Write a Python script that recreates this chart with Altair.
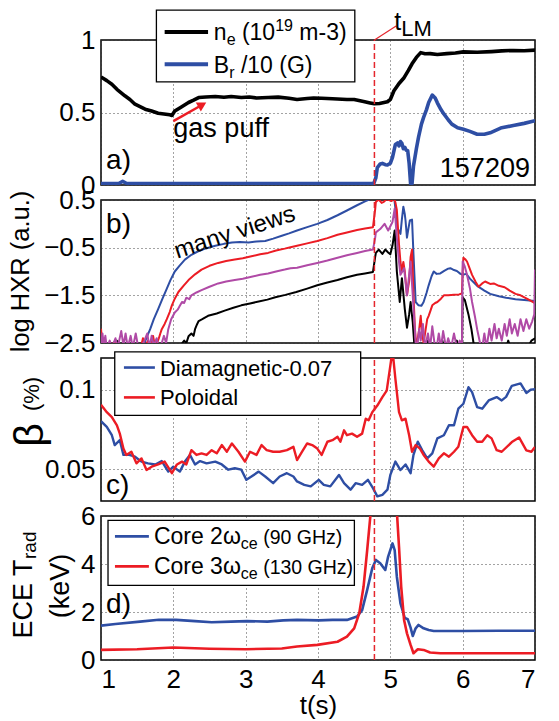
import altair as alt
import pandas as pd

FONT = "Liberation Sans"
BLUE = "#2e4ea4"
RED = "#ec1c24"
MAG = "#b04aa6"
BLACK = "#000000"
DRED = "#e4262d"
T_LM = 4.78

# ---------------- panel a : density and Br ----------------
T_NE = [1.0, 1.08, 1.15, 1.22, 1.33, 1.4, 1.47, 1.54, 1.61, 1.7, 1.79, 1.87, 1.95, 1.98, 2.02, 2.1, 2.21, 2.28,
        2.35, 2.45, 2.58, 2.7, 2.8, 2.94, 3.05, 3.15, 3.31, 3.45, 3.6, 3.71, 3.85, 3.94, 4.05, 4.2, 4.4, 4.5, 4.63,
        4.72, 4.78, 4.85, 4.96, 5.0, 5.05, 5.12, 5.19, 5.25, 5.3, 5.36, 5.42, 5.48, 5.55, 5.65, 5.78, 5.9, 6.01,
        6.2, 6.4, 6.54, 6.7, 6.85, 7.0]
NE = [0.745, 0.72, 0.695, 0.66, 0.615, 0.59, 0.557, 0.54, 0.523, 0.51, 0.495, 0.49, 0.484, 0.48, 0.51, 0.535,
      0.569, 0.585, 0.603, 0.607, 0.61, 0.605, 0.61, 0.603, 0.607, 0.6, 0.603, 0.606, 0.598, 0.59, 0.596, 0.6,
      0.598, 0.595, 0.59, 0.59, 0.576, 0.566, 0.56, 0.562, 0.574, 0.59, 0.65, 0.7, 0.74, 0.79, 0.836, 0.88, 0.913,
      0.905, 0.906, 0.9, 0.906, 0.91, 0.918, 0.915, 0.92, 0.925, 0.928, 0.926, 0.93]

T_BR = [1.0, 1.25, 1.3, 1.35, 1.6, 2.0, 3.0, 4.0, 4.77, 4.8, 4.82, 4.86, 4.89, 4.93, 4.96, 5.0, 5.03, 5.07, 5.1,
        5.12, 5.14, 5.16, 5.18, 5.2, 5.22, 5.24, 5.26, 5.28, 5.3, 5.32, 5.36, 5.39, 5.43, 5.46, 5.5, 5.53, 5.58,
        5.62, 5.65, 5.7, 5.74, 5.8, 5.85, 5.93, 6.01, 6.1, 6.2, 6.3, 6.38, 6.54, 6.7, 6.85, 7.0]
BR = [0.01, 0.012, 0.025, 0.012, 0.01, 0.01, 0.01, 0.01, 0.01, 0.05, 0.12, 0.145, 0.149, 0.14, 0.138, 0.15, 0.19,
      0.28, 0.29, 0.27, 0.3, 0.287, 0.25, 0.26, 0.24, 0.237, 0.15, 0.01, 0.01, 0.13, 0.25, 0.33, 0.42, 0.466,
      0.52, 0.569, 0.62, 0.6, 0.567, 0.52, 0.49, 0.45, 0.42, 0.395, 0.385, 0.37, 0.35, 0.35, 0.36, 0.395, 0.41,
      0.425, 0.443]

# ---------------- panel b : log HXR, several views ----------------
T_HB = [1.0, 1.55, 1.6, 1.64, 1.68, 1.73, 1.79, 1.85, 1.91, 1.96, 2.02, 2.09, 2.16, 2.25, 2.35, 2.46, 2.58, 2.7,
        2.81, 2.92, 3.04, 3.15, 3.27, 3.38, 3.5, 3.6, 3.71, 3.85, 3.99, 4.13, 4.27, 4.4, 4.54, 4.65, 4.77, 4.85,
        5.0, 5.05, 5.08, 5.09, 5.12, 5.14, 5.16, 5.18, 5.2, 5.21, 5.23, 5.25, 5.27, 5.3, 5.32, 5.35, 5.39, 5.43,
        5.46, 5.5, 5.53, 5.57, 5.6, 5.64, 5.69, 5.75, 5.8, 5.83, 5.88, 5.92, 5.97, 6.0, 6.05, 6.1, 6.2, 6.3, 6.38,
        6.5, 6.6, 6.73, 6.85, 7.0]
HB = [-2.7, -2.7, -2.5, -2.35, -2.21, -2.0, -1.79, -1.57, -1.36, -1.18, -1.0, -0.87, -0.75, -0.65, -0.57, -0.51,
      -0.46, -0.42, -0.39, -0.38, -0.39, -0.37, -0.36, -0.31, -0.25, -0.2, -0.14, -0.07, 0.0, 0.08, 0.18, 0.28,
      0.39, 0.47, 0.55, 0.6, 0.6, 0.58, 0.2, -0.07, -0.15, -0.21, 0.1, 0.36, 0.2, 0.07, -0.29, -0.1, 0.07, 0.09,
      -0.64, -1.64, -1.71, -1.72, -1.64, -1.45, -1.29, -1.1, -1.0, -1.05, -1.04, -0.98, -0.94, -0.93, -0.97,
      -0.99, -1.05, -1.07, -1.05, -1.15, -1.3, -1.4, -1.47, -1.52, -1.55, -1.58, -1.6, -1.62]

T_HR = [1.0, 1.02, 1.05, 1.07, 1.12, 1.2, 1.23, 1.4, 1.55, 1.58, 1.6, 1.65, 1.68, 1.72, 1.75, 1.8, 1.82, 1.84,
        1.88, 1.91, 1.95, 1.98, 2.02, 2.07, 2.14, 2.21, 2.3, 2.39, 2.5, 2.62, 2.73, 2.85, 2.96, 3.08, 3.2, 3.31,
        3.42, 3.54, 3.62, 3.71, 3.85, 3.99, 4.13, 4.27, 4.4, 4.54, 4.65, 4.76, 4.79, 4.8, 4.84, 4.88, 4.91, 4.95,
        4.98, 5.02, 5.05, 5.07, 5.09, 5.12, 5.14, 5.16, 5.18, 5.2, 5.23, 5.26, 5.28, 5.3, 5.32, 5.34, 5.36, 5.4,
        5.42, 5.44, 5.46, 5.49, 5.51, 5.53, 5.56, 5.58, 5.62, 5.65, 5.7, 5.74, 5.8, 5.88, 5.95, 5.99, 6.0, 6.01,
        6.04, 6.06, 6.1, 6.13, 6.18, 6.22, 6.27, 6.31, 6.38, 6.43, 6.5, 6.58, 6.65, 6.73, 6.8, 6.9, 6.98, 7.0]
HR = [-2.2, -2.6, -2.4, -2.6, -2.6, -2.45, -2.6, -2.6, -2.6, -2.4, -2.6, -2.45, -2.6, -2.35, -2.6, -2.4, -2.3,
      -2.21, -2.1, -2.0, -1.85, -1.71, -1.57, -1.43, -1.3, -1.18, -1.06, -0.96, -0.88, -0.82, -0.78, -0.75, -0.72,
      -0.68, -0.64, -0.61, -0.56, -0.52, -0.49, -0.46, -0.41, -0.36, -0.3, -0.23, -0.18, -0.13, -0.1, -0.07, 0.3,
      0.46, 0.51, 0.44, 0.46, 0.52, 0.5, 0.48, 0.54, 0.45, 0.29, -0.43, -0.8, -1.0, -0.8, -1.0, -1.5, -1.2, -0.7,
      -0.54, -1.5, -2.2, -2.6, -2.2, -1.93, -2.3, -2.5, -2.2, -2.0, -1.93, -1.8, -1.71, -1.66, -1.64, -1.57,
      -1.5, -1.5, -1.49, -1.48, -1.46, -1.0, -0.71, -0.75, -0.79, -0.95, -1.07, -1.22, -1.32, -1.25, -1.21,
      -1.26, -1.25, -1.3, -1.33, -1.4, -1.47, -1.5, -1.58, -1.65, -1.66]

T_HK = [1.0, 1.2, 1.22, 1.24, 2.0, 2.1, 2.15, 2.18, 2.21, 2.25, 2.28, 2.3, 2.33, 2.35, 2.4, 2.48, 2.6, 2.71, 2.83,
        2.94, 3.06, 3.18, 3.3, 3.41, 3.55, 3.7, 3.85, 3.99, 4.13, 4.27, 4.4, 4.54, 4.65, 4.76, 4.79, 4.8, 4.84,
        4.89, 4.93, 4.97, 5.0, 5.03, 5.06, 5.09, 5.13, 5.16, 5.2, 5.23, 5.26, 5.28, 5.31, 5.33, 5.36, 5.5, 5.52,
        5.54, 5.7, 5.72, 5.74, 5.9, 5.92, 5.94, 5.99, 6.0, 6.03, 6.08, 6.12, 6.15, 6.18, 6.6, 6.63, 6.66, 6.9,
        6.95, 7.0]
HK = [-2.6, -2.6, -2.45, -2.6, -2.6, -2.55, -2.45, -2.5, -2.36, -2.3, -2.35, -2.21, -2.1, -2.04, -2.0, -1.93,
      -1.88, -1.82, -1.76, -1.71, -1.67, -1.63, -1.59, -1.54, -1.49, -1.43, -1.36, -1.29, -1.23, -1.18, -1.12,
      -1.07, -1.04, -1.01, -0.7, -0.61, -0.54, -0.63, -0.54, -0.6, -0.64, -0.45, -0.14, -1.0, -1.64, -1.14,
      -1.79, -2.18, -1.9, -1.64, -2.07, -2.5, -2.6, -2.6, -2.45, -2.6, -2.6, -2.45, -2.6, -2.6, -2.45, -2.6,
      -2.6, -1.54, -1.6, -1.9, -2.2, -2.5, -2.6, -2.6, -2.45, -2.6, -2.6, -2.45, -2.4]

T_HM = [1.0, 1.02, 1.04, 1.06, 1.08, 1.12, 1.15, 1.2, 1.23, 1.28, 1.31, 1.34, 1.37, 1.41, 1.44, 1.48, 1.51, 1.55,
        1.6, 1.64, 1.67, 1.7, 1.73, 1.77, 1.8, 1.84, 1.87, 1.9, 1.93, 1.97, 2.02, 2.06, 2.09, 2.12, 2.15, 2.18,
        2.22, 2.25, 2.32, 2.39, 2.5, 2.62, 2.73, 2.85, 2.96, 3.08, 3.2, 3.31, 3.42, 3.54, 3.62, 3.71, 3.85, 3.99,
        4.13, 4.27, 4.4, 4.54, 4.65, 4.76, 4.79, 4.8, 4.86, 4.92, 4.97, 5.0, 5.03, 5.06, 5.09, 5.12, 5.14, 5.19,
        5.23, 5.28, 5.31, 5.35, 5.37, 5.4, 5.42, 5.45, 5.48, 5.52, 5.55, 5.58, 5.61, 5.64, 5.67, 5.7, 5.73, 5.77,
        5.8, 5.84, 5.88, 5.92, 5.96, 5.99, 6.0, 6.03, 6.06, 6.1, 6.13, 6.17, 6.2, 6.24, 6.27, 6.3, 6.33, 6.37,
        6.4, 6.44, 6.47, 6.5, 6.54, 6.58, 6.61, 6.65, 6.68, 6.72, 6.76, 6.8, 6.84, 6.88, 6.92, 6.96, 6.99, 7.0]
HM = [-2.6, -2.3, -2.55, -2.35, -2.6, -2.45, -2.6, -2.4, -2.6, -2.25, -2.55, -2.3, -2.6, -2.35, -2.6, -2.3,
      -2.55, -2.6, -2.45, -2.3, -2.6, -2.35, -2.55, -2.4, -2.6, -2.5, -2.35, -2.5, -2.21, -2.0, -1.86, -1.8,
      -1.72, -1.64, -1.66, -1.55, -1.58, -1.5, -1.44, -1.39, -1.32, -1.25, -1.21, -1.18, -1.15, -1.11, -1.07,
      -1.04, -1.0, -0.96, -0.93, -0.92, -0.87, -0.82, -0.77, -0.71, -0.66, -0.61, -0.57, -0.54, -0.3, -0.18,
      -0.11, 0.0, -0.14, -0.05, 0.04, 0.32, -0.29, -0.8, -1.07, -0.93, -1.5, -0.79, -1.5, -2.5, -2.6, -2.2,
      -2.45, -2.1, -2.6, -2.3, -2.6, -2.15, -2.5, -2.6, -2.3, -2.6, -2.25, -2.6, -2.4, -2.6, -2.3, -2.6, -2.45,
      -2.6, -0.79, -0.9, -1.07, -1.35, -1.64, -1.95, -2.21, -2.5, -2.6, -2.3, -2.6, -2.2, -2.45, -2.1, -2.4,
      -2.2, -2.45, -2.1, -2.35, -2.0, -2.3, -2.1, -2.35, -2.0, -2.25, -2.0, -2.2, -2.05, -1.9, -0.96]

# ---------------- panel c : beta ----------------
T_BD = [1.0, 1.08, 1.15, 1.19, 1.26, 1.31, 1.38, 1.47, 1.56, 1.65, 1.75, 1.84, 1.93, 2.0, 2.09, 2.16, 2.23, 2.3,
        2.37, 2.46, 2.58, 2.67, 2.76, 2.85, 2.94, 3.01, 3.08, 3.18, 3.27, 3.38, 3.47, 3.57, 3.66, 3.71, 3.81, 3.9,
        4.01, 4.08, 4.17, 4.29, 4.36, 4.45, 4.52, 4.61, 4.69, 4.76, 4.82, 4.89, 4.96, 5.0, 5.07, 5.14, 5.21, 5.28,
        5.32, 5.38, 5.44, 5.51, 5.58, 5.65, 5.74, 5.81, 5.88, 5.94, 6.01, 6.08, 6.13, 6.2, 6.27, 6.36, 6.47, 6.54,
        6.6, 6.68, 6.8, 6.88, 6.94, 7.0]
BD = [0.0802, 0.0767, 0.0714, 0.0652, 0.0683, 0.059, 0.0592, 0.0579, 0.0548, 0.0537, 0.053, 0.0551, 0.0485,
      0.0516, 0.0485, 0.0548, 0.059, 0.053, 0.0551, 0.0537, 0.0548, 0.053, 0.0497, 0.0506, 0.0497, 0.0433,
      0.0454, 0.0485, 0.0454, 0.0412, 0.0454, 0.0475, 0.0454, 0.0423, 0.0402, 0.0392, 0.0433, 0.0402, 0.0392,
      0.0464, 0.0412, 0.0371, 0.0412, 0.0402, 0.0433, 0.0381, 0.0329, 0.0339, 0.0371, 0.0464, 0.0548, 0.0495,
      0.053, 0.0475, 0.059, 0.0673, 0.062, 0.0568, 0.06, 0.0694, 0.0714, 0.0777, 0.0777, 0.0881, 0.0912, 0.1016,
      0.0985, 0.0891, 0.0881, 0.0933, 0.0954, 0.0933, 0.0955, 0.1025, 0.104, 0.098, 0.1, 0.1004]

T_BP = [1.0, 1.08, 1.15, 1.22, 1.26, 1.31, 1.35, 1.42, 1.49, 1.56, 1.63, 1.7, 1.79, 1.88, 1.98, 2.05, 2.12, 2.18,
        2.25, 2.32, 2.39, 2.46, 2.53, 2.6, 2.67, 2.74, 2.81, 2.9, 2.99, 3.06, 3.15, 3.22, 3.29, 3.38, 3.47, 3.57,
        3.66, 3.71, 3.78, 3.85, 3.92, 3.99, 4.05, 4.13, 4.2, 4.27, 4.31, 4.36, 4.4, 4.47, 4.54, 4.61, 4.66, 4.7,
        4.75, 4.82, 4.89, 4.95, 5.0, 5.03, 5.07, 5.12, 5.16, 5.21, 5.26, 5.3, 5.35, 5.41, 5.46, 5.53, 5.6, 5.67,
        5.74, 5.81, 5.88, 5.94, 6.01, 6.06, 6.13, 6.2, 6.27, 6.34, 6.4, 6.47, 6.54, 6.68, 6.78, 6.88, 6.95, 7.0]
BP = [0.0906, 0.0859, 0.0828, 0.0776, 0.0724, 0.063, 0.059, 0.061, 0.0537, 0.0568, 0.0495, 0.0516, 0.053,
      0.0548, 0.0475, 0.053, 0.0548, 0.053, 0.062, 0.059, 0.06, 0.059, 0.062, 0.06, 0.0652, 0.061, 0.0662, 0.061,
      0.0548, 0.061, 0.059, 0.0652, 0.062, 0.061, 0.061, 0.062, 0.0641, 0.0558, 0.061, 0.0662, 0.0652, 0.063,
      0.059, 0.0673, 0.0683, 0.0704, 0.0673, 0.0745, 0.0714, 0.0724, 0.0704, 0.0724, 0.0818, 0.0808, 0.0859,
      0.0901, 0.0954, 0.0995, 0.1151, 0.125, 0.1068, 0.0859, 0.0808, 0.0818, 0.0714, 0.061, 0.0652, 0.063,
      0.059, 0.0548, 0.0516, 0.0568, 0.06, 0.0579, 0.061, 0.0641, 0.0766, 0.0766, 0.0714, 0.0673, 0.0673,
      0.0714, 0.0694, 0.062, 0.061, 0.0671, 0.07, 0.0619, 0.061, 0.064]

# ---------------- panel d : ECE ----------------
T_E2 = [1.0, 1.2, 1.54, 1.8, 2.04, 2.3, 2.53, 2.8, 3.02, 3.3, 3.52, 3.71, 4.01, 4.2, 4.4, 4.54, 4.61, 4.68, 4.75,
        4.8, 4.86, 4.93, 4.97, 5.03, 5.06, 5.09, 5.14, 5.2, 5.24, 5.28, 5.31, 5.35, 5.39, 5.46, 5.53, 5.6, 6.0,
        6.5, 7.0]
E2 = [1.43, 1.5, 1.6, 1.68, 1.67, 1.62, 1.57, 1.6, 1.62, 1.6, 1.65, 1.67, 1.65, 1.67, 1.67, 1.81, 2.08, 2.92,
      3.82, 4.17, 4.03, 3.75, 4.31, 4.86, 4.58, 3.47, 2.36, 1.75, 1.7, 1.35, 1.0, 1.32, 1.46, 1.32, 1.25, 1.21,
      1.21, 1.22, 1.22]

T_E3 = [1.0, 1.5, 2.0, 2.5, 3.0, 3.5, 3.71, 3.99, 4.27, 4.4, 4.5, 4.57, 4.63, 4.68, 4.73, 4.78, 5.0, 5.09, 5.12,
        5.15, 5.19, 5.23, 5.28, 5.32, 5.38, 5.46, 5.55, 5.69, 6.0, 6.5, 7.0]
E3 = [0.42, 0.45, 0.52, 0.47, 0.45, 0.48, 0.56, 0.63, 0.76, 0.97, 1.32, 1.94, 3.06, 4.58, 6.2, 8.0, 8.0, 6.2,
      4.72, 3.06, 1.67, 1.11, 0.63, 0.28, 0.45, 0.42, 0.31, 0.28, 0.28, 0.28, 0.28]

X_TICKS = [1, 2, 3, 4, 5, 6, 7]

# Arial / Liberation Sans advance widths (1/1000 em)
WID = {' ': 278, '(': 333, ')': 333, '/': 278, '-': 333, '.': 278, '%': 889,
       'A': 667, 'B': 667, 'C': 722, 'D': 722, 'E': 667, 'G': 778, 'H': 722, 'L': 556, 'M': 833,
       'P': 667, 'R': 722, 'T': 611, 'V': 667, 'X': 667,
       'a': 556, 'c': 500, 'd': 556, 'e': 556, 'f': 278, 'g': 556, 'i': 222, 'k': 500, 'l': 222,
       'm': 833, 'n': 556, 'o': 556, 'p': 556, 'r': 333, 's': 500, 't': 278, 'u': 556, 'v': 500,
       'w': 722, 'y': 500, 'z': 500, 'ω': 780}


def twidth(s, size):
    return sum(WID.get(c, 556) for c in s) * size / 1000.0


def one(**kw):
    return pd.DataFrame({k: [v] for k, v in kw.items()})


def make_panel(ydom, yvals, yfmt, height, bottom, build):
    xs = alt.Scale(domain=[1, 7], nice=False, zero=False)
    ys = alt.Scale(domain=ydom, nice=False, zero=False)
    if bottom:
        xaxis = alt.Axis(values=X_TICKS, title="t(s)", format="d", labelFontSize=26, titleFontSize=26,
                         titleFontWeight="normal", labelPadding=6, titlePadding=0, ticks=False,
                         domain=False, grid=True, labelFont=FONT, titleFont=FONT, labelColor="black",
                         titleColor="black")
    else:
        xaxis = alt.Axis(values=X_TICKS, title=None, labels=False, ticks=False, domain=False, grid=True)
    yaxis = alt.Axis(values=yvals, title=None, format=yfmt, labelFontSize=26, labelPadding=6, ticks=False,
                     domain=False, grid=True, labelFont=FONT, labelColor="black")
    X = alt.X("t:Q", scale=xs, axis=xaxis)
    Y = alt.Y("v:Q", scale=ys, axis=yaxis)

    def line(ts, vs, color, w):
        d = pd.DataFrame({"t": ts, "v": vs})
        return alt.Chart(d).mark_line(color=color, strokeWidth=w, clip=True, strokeJoin="round").encode(x=X, y=Y)

    def seg(t, v, t2, v2, color, w, dash=None):
        props = dict(color=color, strokeWidth=w)
        if dash:
            props["strokeDash"] = dash
        return alt.Chart(one(t=t, v=v, t2=t2, v2=v2)).mark_rule(**props).encode(
            x=X, y=Y, x2=alt.X2("t2:Q"), y2=alt.Y2("v2:Q"))

    def box(t, v, t2, v2):
        return alt.Chart(one(t=t, v=v, t2=t2, v2=v2)).mark_rect(
            fill="white", stroke="black", strokeWidth=1.3).encode(x=X, y=Y, x2=alt.X2("t2:Q"), y2=alt.Y2("v2:Q"))

    def pieces_iter(pieces):
        off = 0.0
        for txt, size, dy in pieces:
            lead = len(txt) - len(txt.lstrip(" "))
            off += twidth(" " * lead, size)
            s = txt.strip(" ")
            yield s, size, dy, off
            off += twidth(s, size)

    def rich(t, v, pieces, color="black", angle=0, align="left", baseline="alphabetic"):
        out = []
        for s, size, dy, off in pieces_iter(pieces):
            out.append(alt.Chart(one(t=t, v=v, s=s)).mark_text(
                align=align, baseline=baseline, dx=off, dy=dy, fontSize=size, font=FONT, color=color,
                angle=angle).encode(x=X, y=Y, text="s:N"))
        return out

    def rich_px(px, py, pieces, angle=270, align="left", baseline="middle"):
        out = []
        for s, size, dy, off in pieces_iter(pieces):
            out.append(alt.Chart(one(t=1, s=s)).mark_text(
                align=align, baseline=baseline, dx=off, dy=dy, fontSize=size, font=FONT, color="black",
                angle=angle).encode(x=alt.value(px), y=alt.value(py), text="s:N"))
        return out

    def tri(t, v, ang):
        return alt.Chart(one(t=t, v=v)).mark_point(shape="triangle-right", filled=True, size=110, angle=ang,
                                                   color=RED, opacity=1).encode(x=X, y=Y)

    layers = build(line, seg, box, rich, rich_px, tri)
    return alt.layer(*layers).properties(width=434, height=height)


def build_a(line, seg, box, rich, rich_px, tri):
    L = [line(T_NE, NE, BLACK, 3.6), line(T_BR, BR, BLUE, 3.6),
         seg(T_LM, 0, T_LM, 1, DRED, 1.5, [6, 3]),
         seg(T_LM, 1.0, 5.08, 1.096, DRED, 1.2),
         box(1.766, 1.206, 4.509, 0.711),
         seg(1.88, 1.055, 2.48, 1.055, BLACK, 4),
         seg(1.88, 0.832, 2.48, 0.832, BLUE, 4)]
    L += rich(2.56, 0.998, [("n", 23, 0), ("e", 16, 5), (" (10", 23, 0), ("19", 16, -9), (" m-3)", 23, 0)])
    L += rich(2.56, 0.775, [("B", 23, 0), ("r", 16, 5), (" /10 (G)", 23, 0)])
    L += rich(5.055, 1.07, [("t", 25, 0), ("LM", 22, 6)])
    L += rich(2.0, 0.328, [("gas puff", 27, 0)])
    L += [seg(2.0, 0.44, 2.37, 0.545, RED, 2.5), tri(2.4, 0.553, 331)]
    L += rich(1.07, 0.108, [("a)", 28, 0)])
    L += rich(6.93, 0.053, [("157209", 27, 0)], align="right")
    return L


def build_b(line, seg, box, rich, rich_px, tri):
    L = [line(T_HK, HK, BLACK, 2), line(T_HB, HB, BLUE, 2), line(T_HR, HR, RED, 2), line(T_HM, HM, MAG, 2),
         seg(T_LM, -2.5, T_LM, 0.5, DRED, 1.5, [6, 3])]
    L += rich(1.07, -0.19, [("b)", 28, 0)])
    L += rich(2.85, -0.185, [("many views", 24, 0)], angle=342, align="center", baseline="middle")
    L += rich_px(-80, 71.5, [("log HXR (a.u.)", 25.5, 0)], align="center")
    return L


def build_c(line, seg, box, rich, rich_px, tri):
    L = [line(T_BD, BD, BLUE, 2.4), line(T_BP, BP, RED, 2.4),
         seg(T_LM, 0.03, T_LM, 0.12, DRED, 1.5, [6, 3]),
         box(1.19, 0.1239, 4.59, 0.0839),
         seg(1.317, 0.114, 1.745, 0.114, BLUE, 2.6),
         seg(1.317, 0.0952, 1.745, 0.0952, RED, 2.6)]
    L += rich(1.814, 0.1089, [("Diamagnetic-0.07", 22, 0)])
    L += rich(1.814, 0.0902, [("Poloidal", 22, 0)])
    L += rich(1.07, 0.0346, [("c)", 28, 0)])
    L += rich_px(-70, 77, [("β", 41, 0)], align="center")
    L += rich_px(-69, 36, [("(%)", 22, 0)], align="center")
    return L


def build_d(line, seg, box, rich, rich_px, tri):
    L = [line(T_E2, E2, BLUE, 2.6), line(T_E3, E3, RED, 2.6),
         seg(T_LM, 0, T_LM, 6, DRED, 1.5, [6, 3]),
         box(1.097, 5.82, 4.503, 3.11),
         seg(1.193, 5.15, 1.662, 5.15, BLUE, 2.6),
         seg(1.193, 3.9, 1.662, 3.9, RED, 2.6)]
    L += rich(1.731, 4.82, [("Core 2ω", 23, 0), ("ce", 16, 5), (" (90 GHz)", 19.5, 0)])
    L += rich(1.731, 3.57, [("Core 3ω", 23, 0), ("ce", 16, 5), (" (130 GHz)", 19.5, 0)])
    L += rich(1.07, 1.95, [("d)", 28, 0)])
    L += rich_px(-77, 122.5, [("ECE T", 27, 0), ("rad", 19, 6)], align="left")
    L += rich_px(-40, 70, [("(keV)", 27, 0)], align="center")
    return L


pa = make_panel([0, 1], [0, 0.5, 1], ".1~f", 145, False, build_a)
pb = make_panel([-2.5, 0.5], [-2.5, -1.5, -0.5, 0.5], ".1f", 143, False, build_b)
pc = make_panel([0.03, 0.12], [0.05, 0.1], ".2~f", 143, False, build_c)
pd_ = make_panel([0, 6], [0, 2, 4, 6], "d", 144, True, build_d)

chart = alt.vconcat(pa, pb, pc, pd_, spacing=15, bounds="flush").configure_view(
    stroke="black", strokeWidth=1.5
).configure_axis(
    gridColor="#333333", gridDash=[1, 3], gridWidth=1, gridOpacity=0.9
).properties(
    padding={"left": 0, "top": 0, "right": 5, "bottom": 0},
    background="white"
)

chart.save("out.html", embed_options={"renderer": "svg", "actions": False})
